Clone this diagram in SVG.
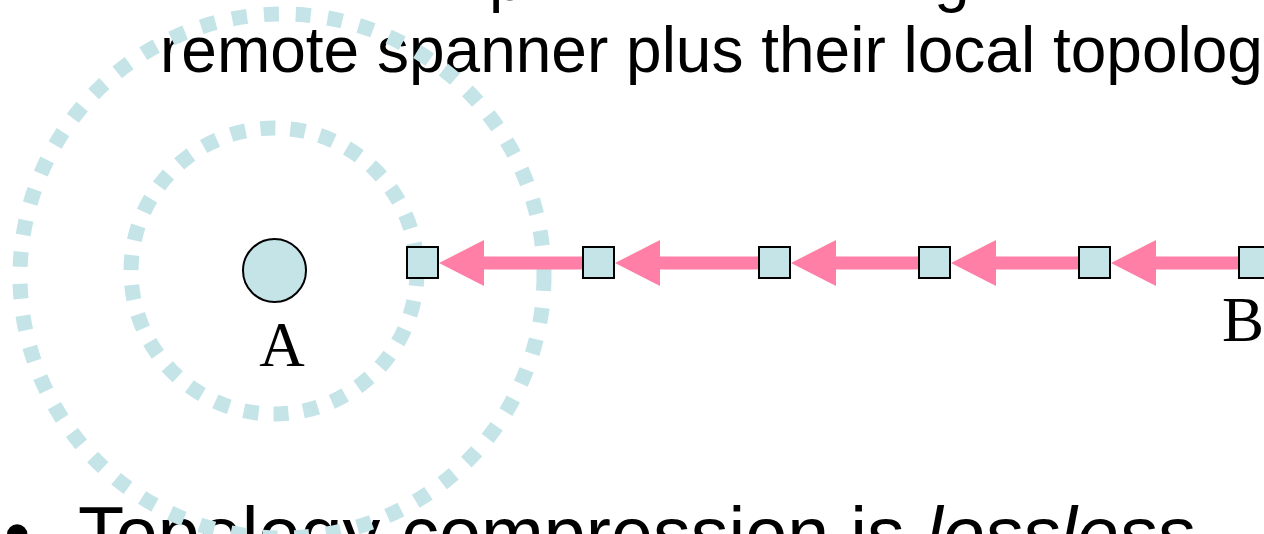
<svg xmlns="http://www.w3.org/2000/svg" width="1264" height="534" viewBox="0 0 1264 534">
  <style>
    .body { font-family: "Liberation Sans", Arial, sans-serif; fill: #000; }
    .lbl { font-family: "Liberation Serif", "Times New Roman", serif; font-size: 63px; fill: #000; }
    .ring { fill: none; stroke: #C4E4E8; stroke-width: 15; }
    .node { fill: #C4E4E8; stroke: #000; stroke-width: 2; }
    .shaft { stroke: #FF7FA7; stroke-width: 13; fill: none; }
    .head { fill: #FF7FA7; }
  </style>

  <!-- slide text -->
  <g id="text">
    <text class="body" x="489" y="0" font-size="64">p</text>
    <text class="body" x="934" y="0" font-size="64">g</text>
    <text class="body" x="160" y="72" font-size="64">remote spanner plus their local topolog</text>
    <text class="body" x="4" y="560" font-size="75.5">•</text>
    <text class="body" x="78" y="560" font-size="75.5">Topology compression is <tspan font-style="italic">lossless</tspan></text>
  </g>

  <!-- neighbourhood rings around A -->
  <g id="rings">
    <circle class="ring" cx="282" cy="276" r="262" stroke-dasharray="15 17"/>
    <circle class="ring" cx="274" cy="271" r="143" stroke-dasharray="15 15"/>
  </g>

  <!-- path from B towards A -->
  <g id="connectors">
    <line class="shaft" x1="582" y1="263" x2="482" y2="263"/>
    <polygon class="head" points="439,263 484,240 484,286"/>
    <line class="shaft" x1="758" y1="263" x2="658" y2="263"/>
    <polygon class="head" points="615,263 660,240 660,286"/>
    <line class="shaft" x1="918" y1="263" x2="834" y2="263"/>
    <polygon class="head" points="791,263 836,240 836,286"/>
    <line class="shaft" x1="1078" y1="263" x2="994" y2="263"/>
    <polygon class="head" points="951,263 996,240 996,286"/>
    <line class="shaft" x1="1238" y1="263" x2="1154" y2="263"/>
    <polygon class="head" points="1111,263 1156,240 1156,286"/>
  </g>

  <g id="nodeA">
    <circle class="node" cx="274.5" cy="270.5" r="31.5"/>
    <text class="lbl" x="282" y="366" text-anchor="middle">A</text>
  </g>
  <g id="n1"><rect class="node" x="407" y="247" width="31" height="31"/></g>
  <g id="n2"><rect class="node" x="583" y="247" width="31" height="31"/></g>
  <g id="n3"><rect class="node" x="759" y="247" width="31" height="31"/></g>
  <g id="n4"><rect class="node" x="919" y="247" width="31" height="31"/></g>
  <g id="n5"><rect class="node" x="1079" y="247" width="31" height="31"/></g>
  <g id="nodeB">
    <rect class="node" x="1239" y="247" width="31" height="31"/>
    <text class="lbl" x="1222" y="341">B</text>
  </g>
</svg>
